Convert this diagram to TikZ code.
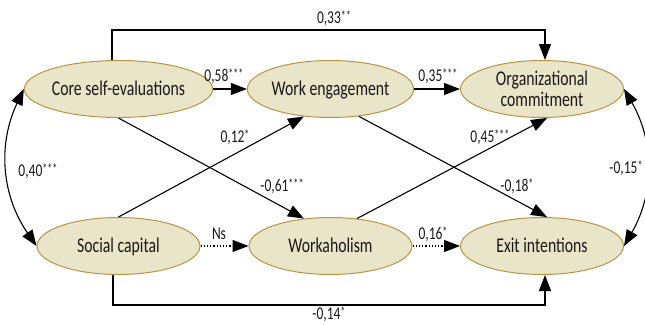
\documentclass[tikz,border=0pt]{standalone}
\usepackage{fontspec}
\setmainfont{Carlito}[FakeStretch=0.75]
\usetikzlibrary{shapes.geometric,arrows.meta}
\definecolor{ellfill}{HTML}{E8E5C8}
\definecolor{elldraw}{HTML}{B89445}
\newcommand\stars[1]{\raisebox{3.2pt}{\fontsize{13.5}{13.5}\selectfont #1}}
\begin{document}
\begin{tikzpicture}[x=1pt,y=1pt,
  ell/.style={ellipse, draw=elldraw, fill=ellfill, line width=1pt, minimum width=163pt, minimum height=57pt, inner sep=0pt, font=\fontsize{21}{20.7}\selectfont, text=black!90},
  one/.style={text height=13.5pt, text depth=0pt},
  lbl/.style={font=\fontsize{18}{18}\selectfont, inner sep=0pt, text=black!90},
  arr/.style={line width=1.1pt, -{Triangle[length=16pt,width=12pt]}},
  dbl/.style={line width=1.1pt, {Triangle[length=16pt,width=12pt]}-{Triangle[length=16pt,width=12pt]}},
  dots/.style={dash pattern=on 1.2pt off 2pt}
]
\useasboundingbox (0,0) rectangle (645,-324);
\node[ell,one] (cse) at (118.5,-89) {Core self-evaluations};
\node[ell,one] (we) at (330.5,-89) {Work engagement};
\node[ell,align=center] (oc) at (542,-89) {Organizational\\commitment};
\node[ell,one] (sc) at (118.5,-246) {Social capital};
\node[ell,one] (wa) at (330.5,-246) {Workaholism};
\node[ell,one] (ei) at (542,-246) {Exit intentions};

\draw[arr] (cse) -- (we);
\draw[arr] (we) -- (oc);
\draw[arr,dots] (sc) -- (wa);
\draw[arr,dots] (wa) -- (ei);
\draw[arr] (cse.south) -- (wa.134);
\draw[arr] (sc.north) -- (we.226);
\draw[arr] (we.-44) -- (ei.80);
\draw[arr] (wa.46) -- (oc.-80);
\draw[arr] ([xshift=-6.5pt]cse.north) -- ++(0,30) -| ([xshift=3pt]oc.north);
\draw[arr] ([xshift=-5.5pt]sc.south) -- ++(0,-30) -| ([xshift=3pt]ei.south);
\draw[dbl] (cse.west) to[bend right=30] (sc.west);
\draw[dbl] (oc.east) to[bend left=30] (ei.east);

\node[lbl] (l033) at (334,-18) {0,33\stars{**}};
\node[lbl] (l014) at (329,-314) {-0,14\stars{*}};
\node[lbl] (l058) at (224,-76) {0,58\stars{***}};
\node[lbl] (l035) at (438,-76) {0,35\stars{***}};
\node[lbl] (l012) at (235,-137) {0,12\stars{*}};
\node[lbl] (l061) at (282,-186) {-0,61\stars{***}};
\node[lbl] (l045) at (490,-137) {0,45\stars{***}};
\node[lbl] (l018) at (517,-186) {-0,18\stars{*}};
\node[lbl] (lns) at (219,-234) {Ns};
\node[lbl] (l016) at (433,-234) {0,16\stars{*}};
\node[lbl] (l040) at (38,-171) {0,40\stars{***}};
\node[lbl] (l015) at (626,-168) {-0,15\stars{*}};
\end{tikzpicture}
\end{document}
